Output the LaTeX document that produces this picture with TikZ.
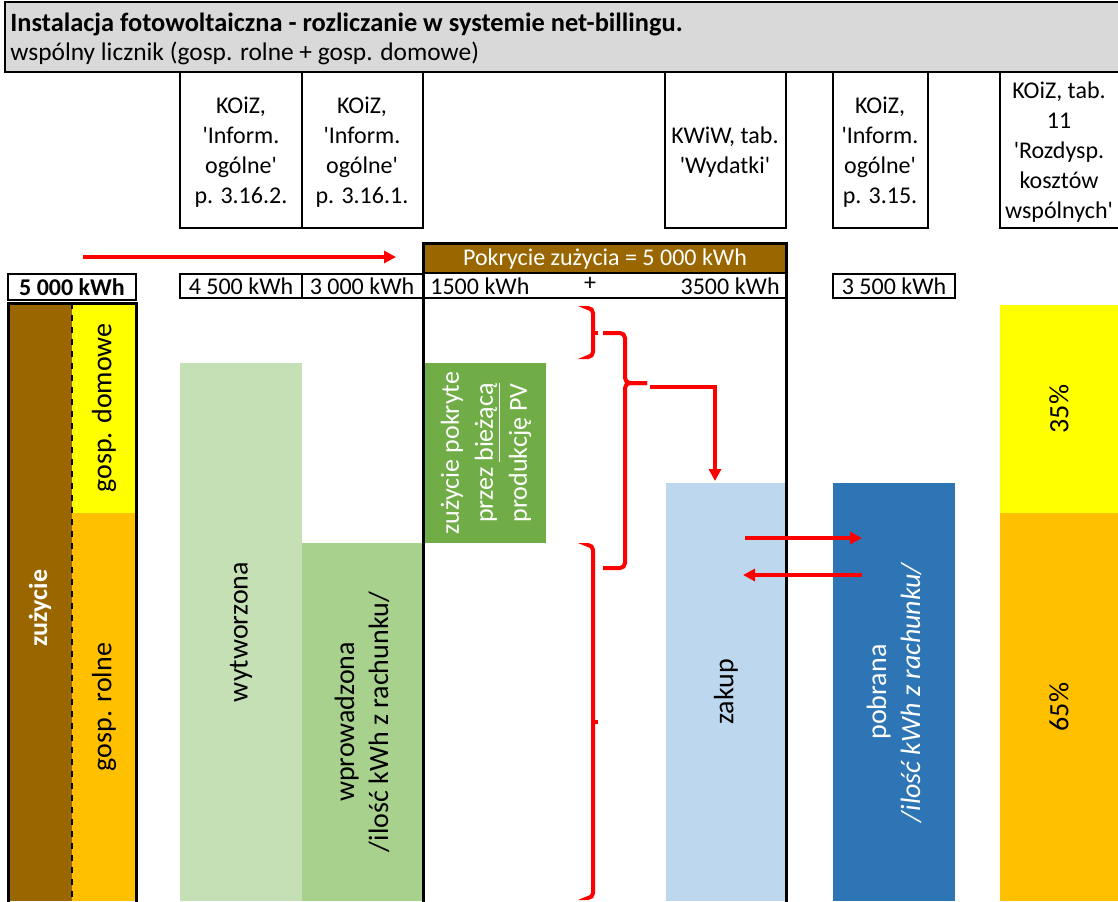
\documentclass[tikz,border=0pt]{standalone}
\usepackage{fontspec}
\setmainfont{Carlito}
\usetikzlibrary{arrows.meta}

\definecolor{szary}{HTML}{D9D9D9}
\definecolor{braz}{HTML}{996600}
\definecolor{zolty}{HTML}{FFFF00}
\definecolor{pomar}{HTML}{FFC000}
\definecolor{jzielony}{HTML}{C5E0B4}
\definecolor{szielony}{HTML}{A9D18E}
\definecolor{czielony}{HTML}{70AD47}
\definecolor{jniebieski}{HTML}{BDD7EE}
\definecolor{cniebieski}{HTML}{2E75B6}
\definecolor{czerwony}{HTML}{FF0000}

\newcommand{\apo}{\textquotesingle}

\tikzset{
  opis/.style={font=\fontsize{12}{15}\selectfont, align=center, inner sep=0pt},
  pion/.style={font=\fontsize{14}{17}\selectfont, align=center, rotate=90, inner sep=0pt},
  ramka/.style={draw=black, line width=0.75pt},
  gruba/.style={draw=black, line width=1.5pt},
  strzalka/.style={draw=czerwony, line width=1.75pt, -{Triangle[length=6pt,width=6pt]}},
  klamra/.style={draw=czerwony, line width=2pt, rounded corners=2.5pt},
}

\begin{document}
\begin{tikzpicture}[x=0.5pt,y=-0.5pt]
\useasboundingbox (0,0) rectangle (1118,901);

% tytul
\fill[szary] (5,2) rectangle (1120,72);
\draw[ramka] (5,2) rectangle (1120,72);
\node[anchor=base west, inner sep=0pt, font=\bfseries\fontsize{13.2}{15}\selectfont] (tytul) at (10,31) {Instalacja fotowoltaiczna - rozliczanie w systemie net-billingu.};
\node[anchor=base west, inner sep=0pt, font=\fontsize{12.7}{15}\selectfont] (podtytul) at (10,60) {wspólny licznik (gosp. rolne + gosp. domowe)};

% zrodla danych
\draw[ramka] (180,72) rectangle (302,228);
\draw[ramka] (302,72) rectangle (423,228);
\draw[ramka] (665,72) rectangle (786,228);
\draw[ramka] (833,72) rectangle (928,228);
\draw[ramka] (1000,72) rectangle (1120,228);
\node[opis] (zrodloA) at (241,152) {KOiZ,\\\apo Inform.\\ogólne\apo\\p. 3.16.2.};
\node[opis] (zrodloB) at (362,152) {KOiZ,\\\apo Inform.\\ogólne\apo\\p. 3.16.1.};
\node[opis] (zrodloC) at (725,152) {KWiW, tab.\\\apo Wydatki\apo};
\node[opis] (zrodloD) at (880,152) {KOiZ,\\\apo Inform.\\ogólne\apo\\p. 3.15.};
\node[opis] (zrodloE) at (1059,152) {KOiZ, tab.\\11\\\apo Rozdysp.\\kosztów\\wspólnych\apo};

% wiersz kWh
\fill[braz] (423,243) rectangle (786,273);
\node[opis, text=white] (pokrycie) at (605,259) {Pokrycie zużycia = 5 000 kWh};
\draw[ramka] (423,273) rectangle (786,298);
\node[opis, anchor=west] (kwh1500) at (430,286) {1500 kWh};
\node[opis] (plus) at (590,284) {+};
\node[opis, anchor=east] (kwh3500) at (780,286) {3500 kWh};
\draw[ramka] (8,274) rectangle (136,300);
\node[opis, font=\bfseries\fontsize{12}{15}\selectfont] (kwh5000) at (72,287) {5 000 kWh};
\draw[ramka] (180,274) rectangle (302,298);
\draw[ramka] (302,274) rectangle (423,298);
\node[opis] (kwh4500) at (241,286) {4 500 kWh};
\node[opis] (kwh3000) at (362,286) {3 000 kWh};
\draw[ramka] (833,274) rectangle (955,298);
\node[opis] (kwhpob) at (894,286) {3 500 kWh};

% zuzycie
\fill[braz] (8,303) rectangle (72,901);
\fill[zolty] (72,303) rectangle (136,513);
\fill[pomar] (72,513) rectangle (136,901);
\draw[black, line width=1pt, dashed] (72,303) -- (72,901);
\draw[gruba] (8,905) -- (8,303) -- (136,303) -- (136,905);
\node[pion, text=white, font=\bfseries\fontsize{13}{16}\selectfont] (zuzycie) at (40,608) {zużycie};
\node[pion] (domowe) at (104,408) {gosp. domowe};
\node[pion] (rolne) at (104,707) {gosp. rolne};

% produkcja PV
\fill[jzielony] (180,363) rectangle (302,901);
\fill[szielony] (302,543) rectangle (423,901);
\node[pion] (wytworzona) at (241,632) {wytworzona};
\node[pion] (wprowadzona) at (362,722) {wprowadzona\\/ilość kWh z rachunku/};

% pokrycie zuzycia
\fill[czielony] (425,363) rectangle (546,543);
\node[pion, text=white, font=\fontsize{13}{17}\selectfont] (biezaca) at (486,453) {zużycie pokryte\\przez \underline{bieżącą}\\produkcję PV};
\fill[jniebieski] (666,483) rectangle (786,901);
\node[pion] (zakup) at (726,692) {zakup};
\draw[gruba] (423,905) -- (423,243) -- (786,243) -- (786,905);

% pobrana
\fill[cniebieski] (833,483) rectangle (955,901);
\node[pion, text=white] (pobrana) at (894,692) {pobrana\\\textit{/ilość kWh z rachunku/}};

% rozdzial kosztow
\fill[zolty] (1000,305) rectangle (1120,513);
\fill[pomar] (1000,513) rectangle (1120,901);
\node[pion] (proc35) at (1059,409) {35\%};
\node[pion] (proc65) at (1059,707) {65\%};

% strzalki i klamry
\coordinate (gora1) at (83,257);
\coordinate (gora2) at (396,257);
\draw[strzalka] (gora1) -- (gora2);

\draw[klamra] (589,308) -- (593,308) -- (593,357) -- (589,357);
\draw[klamra] (593,333) -- (598,333);
\draw[klamra] (603,333) -- (625,333) -- (625,383) -- (647,383);
\draw[klamra] (647,383) -- (625,383) -- (625,568) -- (603,568);
\draw[klamra] (589,545) -- (593,545) -- (593,898) -- (589,898);
\draw[klamra] (593,722) -- (598,722);

\coordinate (grot) at (650,387);
\coordinate (zakupgora) at (715,481);
\draw[strzalka] (grot) -| (zakupgora);

\coordinate (zak1) at (745,538);
\coordinate (pob1) at (862,538);
\coordinate (zak2) at (743,575);
\coordinate (pob2) at (862,575);
\draw[strzalka] (zak1) -- (pob1);
\draw[strzalka] (pob2) -- (zak2);
\end{tikzpicture}
\end{document}
